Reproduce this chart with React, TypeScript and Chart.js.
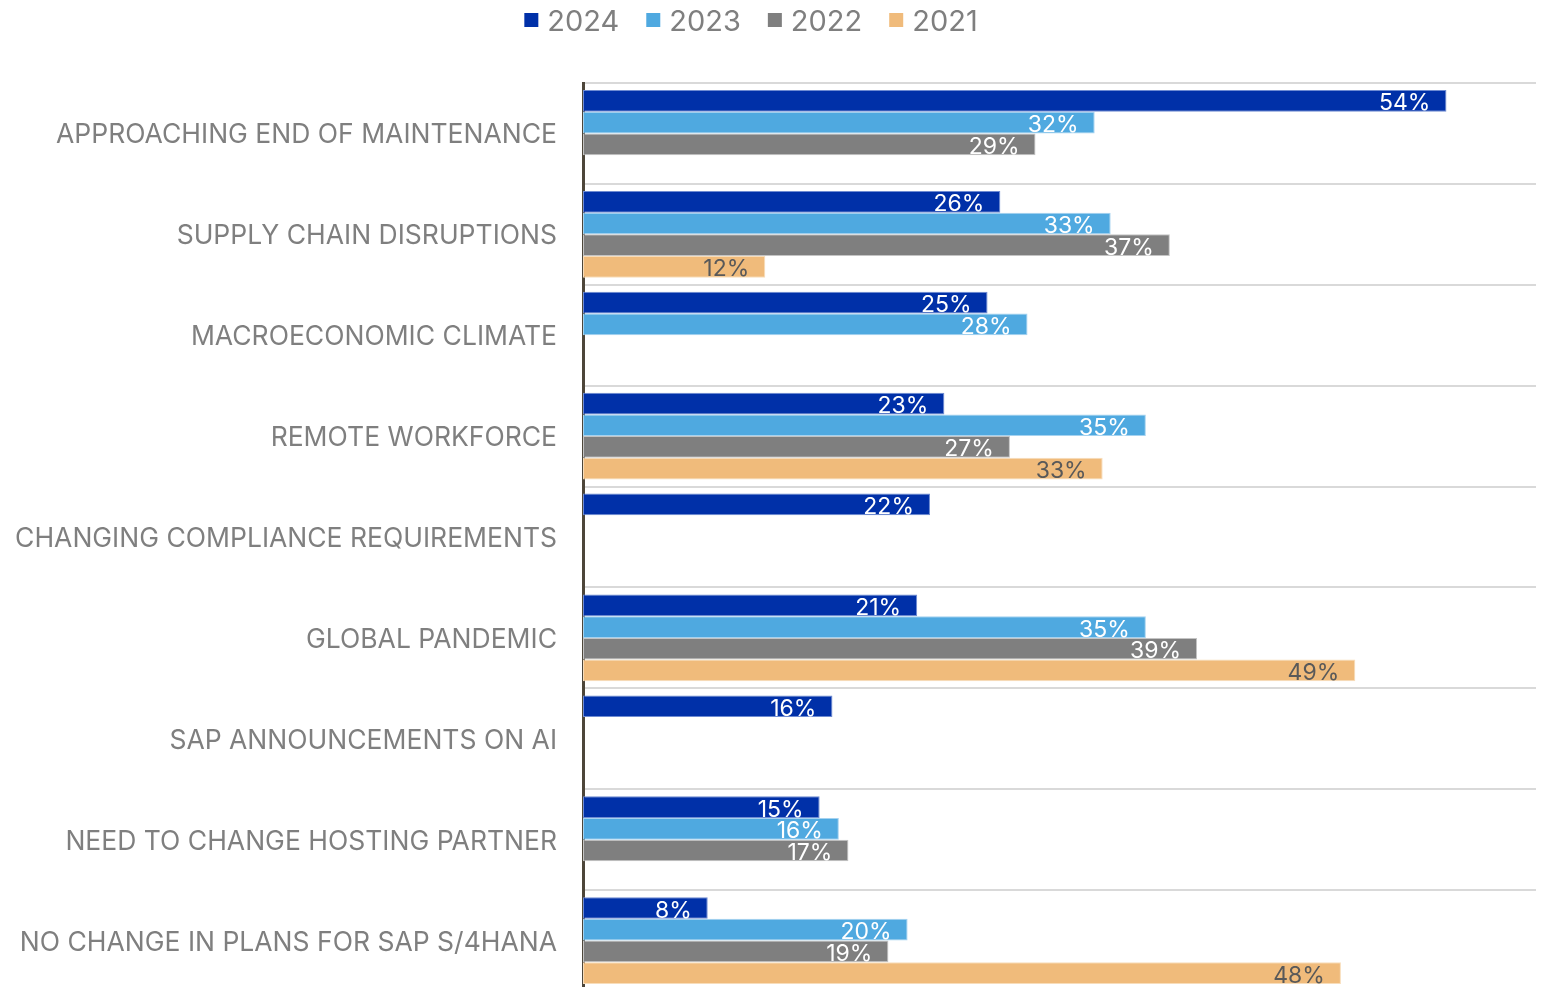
import React, { useEffect, useRef } from "react";
import { Chart, registerables } from "chart.js";

Chart.register(...registerables);

const categories = [
  "APPROACHING END OF MAINTENANCE",
  "SUPPLY CHAIN DISRUPTIONS",
  "MACROECONOMIC CLIMATE",
  "REMOTE WORKFORCE",
  "CHANGING COMPLIANCE REQUIREMENTS",
  "GLOBAL PANDEMIC",
  "SAP ANNOUNCEMENTS ON AI",
  "NEED TO CHANGE HOSTING PARTNER",
  "NO CHANGE IN PLANS FOR SAP S/4HANA",
];

const seriesNames = ["2024", "2023", "2022", "2021"];

// bar lengths (percent)
const values2024 = [54.0, 26.1, 25.3, 22.6, 21.7, 20.9, 15.6, 14.8, 7.8];
const values2023 = [32.0, 33.0, 27.8, 35.2, null, 35.2, null, 16.0, 20.3];
const values2022 = [28.3, 36.7, null, 26.7, null, 38.4, null, 16.6, 19.1];
const values2021 = [null, 11.4, null, 32.5, null, 48.3, null, null, 47.4];

// percentages printed on the bars
const labels2024 = ["54%", "26%", "25%", "23%", "22%", "21%", "16%", "15%", "8%"];
const labels2023 = ["32%", "33%", "28%", "35%", "", "35%", "", "16%", "20%"];
const labels2022 = ["29%", "37%", "", "27%", "", "39%", "", "17%", "19%"];
const labels2021 = ["", "12%", "", "33%", "", "49%", "", "", "48%"];

const FONT = "Inter, 'Noto Sans', sans-serif";

export default function App() {
  const canvasRef = useRef<HTMLCanvasElement | null>(null);

  useEffect(() => {
    const canvas = canvasRef.current;
    if (!canvas) return;

    const fills = ["#0030A8", "#4FA9E0", "#7F7F7F", "#F0BB7B"];
    const borders = ["#6E8BD2", "#A4D2F0", "#C4C4C4", "#F8DDBA"];
    const labelColors = ["#FFFFFF", "#FFFFFF", "#FFFFFF", "#595959"];
    const allValues = [values2024, values2023, values2022, values2021];
    const allLabels = [labels2024, labels2023, labels2022, labels2021];

    const barLabelPlugin = {
      id: "barLabels",
      afterDatasetsDraw(chart: any) {
        const ctx = chart.ctx;
        ctx.save();
        ctx.font = `23px ${FONT}`;
        ctx.textAlign = "right";
        ctx.textBaseline = "alphabetic";
        const m = ctx.measureText("0");
        const asc = m.actualBoundingBoxAscent || 16;
        chart.data.datasets.forEach((ds: any, di: number) => {
          const meta = chart.getDatasetMeta(di);
          meta.data.forEach((el: any, i: number) => {
            const txt = allLabels[di][i];
            if (!txt || ds.data[i] == null) return;
            ctx.fillStyle = labelColors[di];
            ctx.fillText(txt, el.x - 16, el.y + asc / 2 + 1);
          });
        });
        ctx.restore();
      },
    };

    const legendPlugin = {
      id: "customLegend",
      afterDraw(chart: any) {
        const ctx = chart.ctx;
        ctx.save();
        ctx.font = `29px ${FONT}`;
        ctx.textBaseline = "alphabetic";
        ctx.textAlign = "left";
        const box = 14;
        const gap = 9;
        const itemGap = 27;
        const widths = seriesNames.map((s) => ctx.measureText(s).width);
        const total =
          widths.reduce((a, w) => a + box + gap + w, 0) + itemGap * (seriesNames.length - 1);
        let x = 751 - total / 2;
        const m = ctx.measureText("2");
        const asc = m.actualBoundingBoxAscent || 22;
        const midY = 20;
        seriesNames.forEach((s, i) => {
          ctx.fillStyle = fills[i];
          ctx.fillRect(x, midY - box / 2, box, box);
          x += box + gap;
          ctx.fillStyle = "#7F7F7F";
          ctx.fillText(s, x, midY + asc / 2);
          x += widths[i] + itemGap;
        });
        ctx.restore();
      },
    };

    const chart = new Chart(canvas, {
      type: "bar",
      data: {
        labels: categories,
        datasets: seriesNames.map((name, i) => ({
          label: name,
          data: allValues[i],
          backgroundColor: fills[i],
          borderColor: borders[i],
          borderWidth: 1,
          borderSkipped: false,
          barPercentage: 1,
          categoryPercentage: 0.86,
        })),
      },
      options: {
        indexAxis: "y",
        animation: false,
        responsive: false,
        devicePixelRatio: 1,
        layout: { padding: { top: 83, bottom: 9, left: 0, right: 11 } },
        plugins: {
          legend: { display: false },
          tooltip: { enabled: false },
        },
        scales: {
          x: {
            display: false,
            min: 0,
            max: 59.6,
          },
          y: {
            type: "category",
            z: 1,
            grid: {
              display: true,
              offset: true,
              color: "#D9D9D9",
              lineWidth: 2,
              drawTicks: false,
            },
            border: { display: true, color: "#4D463A", width: 3 },
            ticks: {
              color: "#7F7F7F",
              font: { family: FONT, size: 26.5 },
              padding: 26,
              labelOffset: 2,
            },
            afterFit(scale: any) {
              scale.width = 583;
              scale.paddingTop = 0;
              scale.paddingBottom = 0;
            },
          },
        },
      },
      plugins: [barLabelPlugin, legendPlugin],
    } as any);

    return () => chart.destroy();
  }, []);

  return (
    <div
      style={{
        position: "absolute",
        left: 0,
        top: 0,
        width: 1547,
        height: 987,
        overflow: "hidden",
        background: "#FFFFFF",
      }}
    >
      <canvas
        ref={canvasRef}
        width={1547}
        height={1000}
        style={{ width: 1547, height: 1000, display: "block" }}
      />
    </div>
  );
}
